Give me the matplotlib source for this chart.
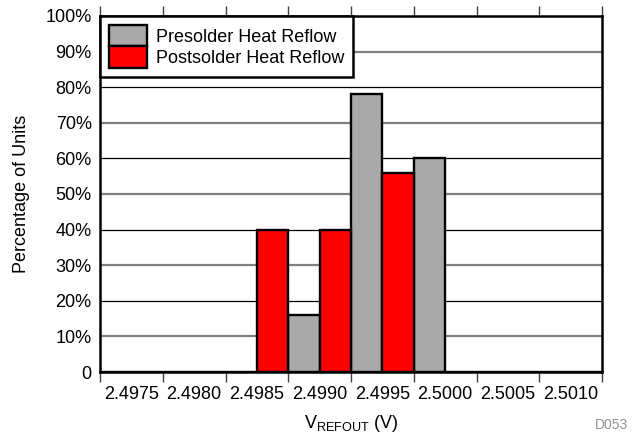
import numpy as np
import matplotlib
matplotlib.use("Agg")
import matplotlib.pyplot as plt

plt.rcParams['font.family'] = ['Liberation Sans', 'DejaVu Sans']
plt.rcParams['mathtext.default'] = 'regular'

# data
bins = ['2.4975', '2.4980', '2.4985', '2.4990', '2.4995', '2.5000', '2.5005', '2.5010']
presolder = [0, 0, 0, 16, 78, 60, 0, 0]
postsolder = [0, 0, 40, 40, 56, 0, 0, 0]
y_ticks = [0, 10, 20, 30, 40, 50, 60, 70, 80, 90, 100]
y_labels = ['0'] + [f'{v}%' for v in y_ticks[1:]]

fig = plt.figure(figsize=(6.35, 4.36), dpi=100)
ax = fig.add_axes([100 / 635, 1 - 372 / 436, 502 / 635, 356 / 436])

x = np.arange(len(bins))
ax.bar(x - 0.25, presolder, width=0.5, color='#a9a9a9', edgecolor='black',
       linewidth=1.7, zorder=3, label='Presolder Heat Reflow')
ax.bar(x + 0.25, postsolder, width=0.5, color='#ff0000', edgecolor='black',
       linewidth=1.7, zorder=3, label='Postsolder Heat Reflow')

# alternating grid lines: black on 20s, gray on the odd tens
for v in y_ticks[1:-1]:
    if v % 20 == 0:
        ax.axhline(v, color='black', linewidth=0.9, zorder=1)
    else:
        ax.axhline(v, color='#808080', linewidth=1.6, zorder=1)

ax.set_xlim(-0.5, len(bins) - 0.5)
ax.set_ylim(0, 100)
ax.set_yticks(y_ticks)
ax.set_yticklabels(y_labels)
ax.tick_params(axis='y', length=0, pad=6, labelsize=13)

# boundaries as major ticks, labels in the middle of each bin
ax.set_xticks(np.arange(len(bins) + 1) - 0.5)
ax.set_xticklabels([])
ax.set_xticks(x, minor=True)
ax.set_xticklabels(bins, minor=True)
ax.tick_params(axis='x', which='major', direction='out', length=7, width=1,
               color='#404040', top=True)
ax.tick_params(axis='x', which='minor', length=0, pad=10, labelsize=13)

for s in ax.spines.values():
    s.set_linewidth(1.8)
    s.set_zorder(5)

ax.set_ylabel('Percentage of Units', fontsize=13)
ax.yaxis.set_label_coords(-0.14, 0.5)
ax.set_xlabel('$V_{REFOUT}$ (V)', fontsize=13)
ax.xaxis.set_label_coords(0.5, -0.115)

leg = ax.legend(loc='upper left', bbox_to_anchor=(0, 1), borderaxespad=0,
                fancybox=False, framealpha=1, edgecolor='black', fontsize=13,
                handlelength=2.1, handleheight=1.45, labelspacing=0,
                handletextpad=0.5, borderpad=0.5)
leg.get_frame().set_linewidth(1.8)
leg.set_zorder(6)

fig.text(628 / 635, 1 - 425 / 436, 'D053', color='#909090', fontsize=10,
         ha='right', va='center')

fig.savefig('out.png', dpi=100)
